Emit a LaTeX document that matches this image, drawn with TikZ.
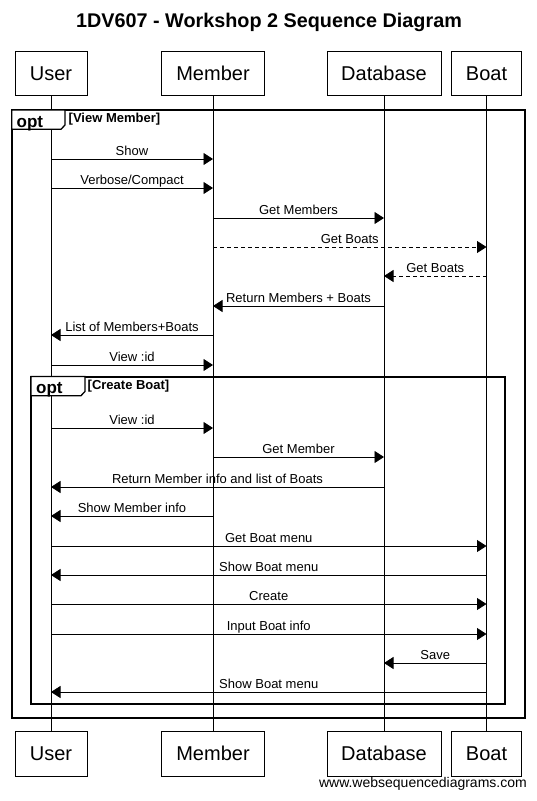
\documentclass[tikz,border=0pt]{standalone}
\usepackage{fontspec}
\setmainfont{Liberation Sans}
\usetikzlibrary{arrows.meta}

\begin{document}
\begin{tikzpicture}[
    x=1pt, y=-1pt,
    actor/.style={
        rectangle,
        draw=black,
        line width=0.8pt,
        fill=white,
        minimum height=44.5pt,
        inner sep=0pt,
        font=\fontsize{20}{24}\selectfont
    },
    lifeline/.style={
        draw=black,
        line width=0.8pt
    },
    msg/.style={
        -{Triangle[length=9.5pt,width=12pt]},
        line width=0.8pt,
        black
    },
    reply/.style={
        msg,
        dash pattern=on 4pt off 3pt
    },
    lbl/.style={
        midway,
        anchor=base,
        yshift=4pt,
        inner sep=0pt,
        font=\fontsize{13}{15}\selectfont
    },
    frame/.style={
        draw=black,
        line width=2pt
    },
    tab/.style={
        draw=black,
        line width=1.3pt,
        fill=white
    },
    optlbl/.style={
        anchor=base west,
        inner sep=0pt,
        font=\fontsize{17}{20}\selectfont\bfseries
    },
    guard/.style={
        anchor=base west,
        inner sep=0pt,
        font=\fontsize{13}{15}\selectfont\bfseries
    }
]
\useasboundingbox (0,0) rectangle (536,801);

% Title
\node[anchor=base, inner sep=0pt, font=\fontsize{19.8}{24}\selectfont\bfseries] (title) at (269,27.3) {1DV607 - Workshop 2 Sequence Diagram};

% Participants (top and bottom)
\node[actor, minimum width=72pt] (userT) at (51,73.3) {User};
\node[actor, minimum width=102.6pt] (memberT) at (213,73.3) {Member};
\node[actor, minimum width=114pt] (dbT) at (384,73.3) {Database};
\node[actor, minimum width=70pt] (boatT) at (486.5,73.3) {Boat};

\node[actor, minimum width=72pt] (userB) at (51,753.8) {User};
\node[actor, minimum width=102.6pt] (memberB) at (213,753.8) {Member};
\node[actor, minimum width=114pt] (dbB) at (384,753.8) {Database};
\node[actor, minimum width=70pt] (boatB) at (486.5,753.8) {Boat};

% Lifelines
\draw[lifeline] (userT) -- (userB);
\draw[lifeline] (memberT) -- (memberB);
\draw[lifeline] (dbT) -- (dbB);
\draw[lifeline] (boatT) -- (boatB);

% opt frame: View Member
\draw[frame] (11.7,110) rectangle (525,717.7);
\draw[tab] (11.7,110) -- (65,110) -- (65,125) -- (61,129.3) -- (11.7,129.3) -- cycle;
\node[optlbl] (opt1) at (16.5,127) {opt};
\node[guard] (guard1) at (68.5,122.7) {[View Member]};

% opt frame: Create Boat
\draw[frame] (31,376.5) rectangle (505,704);
\draw[tab] (31,376.5) -- (85,376.5) -- (85,391.4) -- (81,395.7) -- (31,395.7) -- cycle;
\node[optlbl] (opt2) at (36,393.4) {opt};
\node[guard] (guard2) at (87.5,389.2) {[Create Boat]};

% Messages
\draw[msg] (userT |- 0,159) -- node[lbl] (m1) {Show} (memberT |- 0,159);
\draw[msg] (userT |- 0,188) -- node[lbl] (m2) {Verbose/Compact} (memberT |- 0,188);
\draw[msg] (memberT |- 0,218) -- node[lbl] (m3) {Get Members} (dbT |- 0,218);
\draw[reply] (memberT |- 0,247) -- node[lbl] (m4) {Get Boats} (boatT |- 0,247);
\draw[reply] (boatT |- 0,276) -- node[lbl] (m5) {Get Boats} (dbT |- 0,276);
\draw[msg] (dbT |- 0,306) -- node[lbl] (m6) {Return Members + Boats} (memberT |- 0,306);
\draw[msg] (memberT |- 0,335) -- node[lbl] (m7) {List of Members+Boats} (userT |- 0,335);
\draw[msg] (userT |- 0,365) -- node[lbl] (m8) {View :id} (memberT |- 0,365);

% Messages inside Create Boat
\draw[msg] (userT |- 0,428) -- node[lbl] (m9) {View :id} (memberT |- 0,428);
\draw[msg] (memberT |- 0,457) -- node[lbl] (m10) {Get Member} (dbT |- 0,457);
\draw[msg] (dbT |- 0,487) -- node[lbl] (m11) {Return Member info and list of Boats} (userT |- 0,487);
\draw[msg] (memberT |- 0,516) -- node[lbl] (m12) {Show Member info} (userT |- 0,516);
\draw[msg] (userT |- 0,546) -- node[lbl] (m13) {Get Boat menu} (boatT |- 0,546);
\draw[msg] (boatT |- 0,575) -- node[lbl] (m14) {Show Boat menu} (userT |- 0,575);
\draw[msg] (userT |- 0,604) -- node[lbl] (m15) {Create} (boatT |- 0,604);
\draw[msg] (userT |- 0,634) -- node[lbl] (m16) {Input Boat info} (boatT |- 0,634);
\draw[msg] (boatT |- 0,663) -- node[lbl] (m17) {Save} (dbT |- 0,663);
\draw[msg] (boatT |- 0,692) -- node[lbl] (m18) {Show Boat menu} (userT |- 0,692);

% Watermark
\node[anchor=base east, inner sep=0pt, font=\fontsize{14}{17}\selectfont] (site) at (527,787) {www.websequencediagrams.com};

\end{tikzpicture}
\end{document}
